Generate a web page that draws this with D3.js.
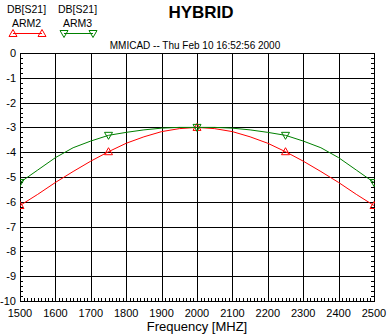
<!DOCTYPE html>
<html>
<head>
<meta charset="utf-8">
<script src="https://cdn.jsdelivr.net/npm/d3@7"></script>
<style>
  html, body { margin: 0; padding: 0; background: #fff; }
  svg { display: block; font-family: "Liberation Sans", Arial, sans-serif; }
</style>
</head>
<body>
<svg id="chart" width="391" height="335"></svg>
<script>
// Frequency sweep (MHz) and insertion loss of the two hybrid arms (dB)
const freq = [1500, 1550, 1600, 1650, 1700, 1750, 1800, 1850, 1900, 1950, 2000,
              2050, 2100, 2150, 2200, 2250, 2300, 2350, 2400, 2450, 2500];
const arm2 = [-6.15, -5.70, -5.22, -4.78, -4.36, -3.98, -3.64, -3.38, -3.17, -3.05, -3.00,
              -3.05, -3.17, -3.38, -3.64, -3.98, -4.36, -4.78, -5.22, -5.70, -6.15];
const arm3 = [-5.22, -4.72, -4.22, -3.82, -3.55, -3.32, -3.20, -3.10, -3.03, -3.00, -3.00,
              -3.00, -3.03, -3.10, -3.20, -3.32, -3.55, -3.82, -4.22, -4.72, -5.22];
const markerFreqs = [1500, 1750, 2000, 2250, 2500];
const xTicks = [1500, 1600, 1700, 1800, 1900, 2000, 2100, 2200, 2300, 2400, 2500];
const yTicks = [0, -1, -2, -3, -4, -5, -6, -7, -8, -9, -10];

const series = [
  { name: "ARM2", label: "DB[S21]", values: arm2, color: "#ff0000", marker: "up" },
  { name: "ARM3", label: "DB[S21]", values: arm3, color: "#008000", marker: "down" }
];

const svg = d3.select("#chart");
const plotL = 20, plotR = 374, plotT = 53, plotB = 301;

const x = d3.scaleLinear().domain([1500, 2500]).range([plotL, plotR]);
const y = d3.scaleLinear().domain([0, -10]).range([plotT, plotB]);

svg.append("defs").append("clipPath").attr("id", "plot-clip")
  .append("rect").attr("x", plotL).attr("y", plotT)
  .attr("width", plotR - plotL + 1).attr("height", plotB - plotT + 1);

// Title and run stamp
svg.append("text").attr("x", 201).attr("y", 18).attr("text-anchor", "middle")
  .attr("font-size", 17).attr("font-weight", "bold").text("HYBRID");
svg.append("text").attr("x", 195).attr("y", 49).attr("text-anchor", "middle")
  .attr("font-size", 10).text("MMICAD -- Thu Feb 10 16:52:56 2000");

const g = svg.append("g").attr("shape-rendering", "crispEdges");

// Major grid
g.selectAll(".vgrid").data(xTicks).join("line")
  .attr("x1", d => Math.round(x(d)) + 0.5).attr("x2", d => Math.round(x(d)) + 0.5)
  .attr("y1", plotT).attr("y2", plotB).attr("stroke", "#000");
g.selectAll(".hgrid").data(yTicks).join("line")
  .attr("y1", d => Math.round(y(d)) + 0.5).attr("y2", d => Math.round(y(d)) + 0.5)
  .attr("x1", plotL).attr("x2", plotR).attr("stroke", "#000");

// Minor ticks on left, right and bottom edges (inside)
const yMinor = d3.range(0, 51).map(i => -i * 0.2);
const xMinor = d3.range(0, 101).map(i => 1500 + i * 10);
g.selectAll(".ml").data(yMinor).join("line")
  .attr("x1", plotL).attr("x2", plotL + 3)
  .attr("y1", d => Math.round(y(d)) + 0.5).attr("y2", d => Math.round(y(d)) + 0.5)
  .attr("stroke", "#000");
g.selectAll(".mr").data(yMinor).join("line")
  .attr("x1", plotR - 3).attr("x2", plotR)
  .attr("y1", d => Math.round(y(d)) + 0.5).attr("y2", d => Math.round(y(d)) + 0.5)
  .attr("stroke", "#000");
g.selectAll(".mb").data(xMinor).join("line")
  .attr("x1", d => Math.round(x(d)) + 0.5).attr("x2", d => Math.round(x(d)) + 0.5)
  .attr("y1", plotB - 3).attr("y2", plotB)
  .attr("stroke", "#000");

// Tick labels
svg.selectAll(".ylab").data(yTicks).join("text")
  .attr("x", 16).attr("y", d => y(d) + 4).attr("text-anchor", "end")
  .attr("font-size", 11).text(d => d);
svg.selectAll(".xlab").data(xTicks).join("text")
  .attr("x", d => x(d)).attr("y", 317).attr("text-anchor", "middle")
  .attr("font-size", 11).text(d => d);
svg.append("text").attr("x", 197).attr("y", 331).attr("text-anchor", "middle")
  .attr("font-size", 13).text("Frequency [MHZ]");

// Triangle marker path
function tri(cx, cy, dir) {
  const s = dir === "up" ? 1 : -1;
  return `M${cx},${cy - 4 * s} L${cx + 4},${cy + 3 * s} L${cx - 4},${cy + 3 * s} Z`;
}

const line = d3.line().x(d => x(d[0])).y(d => y(d[1]));
const traces = svg.append("g").attr("clip-path", "url(#plot-clip)");

series.forEach(s => {
  const pts = freq.map((f, i) => [f, s.values[i]]);
  traces.append("path").datum(pts).attr("d", line)
    .attr("fill", "none").attr("stroke", s.color).attr("stroke-width", 1);
  traces.selectAll(null).data(markerFreqs).join("path")
    .attr("d", f => tri(x(f), y(s.values[freq.indexOf(f)]), s.marker))
    .attr("fill", "none").attr("stroke", s.color).attr("stroke-width", 1);
});

// Legend
const legendX = [7, 58];
series.forEach((s, i) => {
  const lx = legendX[i];
  svg.append("text").attr("x", lx).attr("y", 13).attr("font-size", 10.5).text(s.label);
  svg.append("text").attr("x", lx + 19.5).attr("y", 27).attr("text-anchor", "middle")
    .attr("font-size", 10.5).text(s.name);
  const x1 = lx + 6, x2 = lx + 35, ly = 33.5;
  svg.append("line").attr("x1", x1).attr("x2", x2).attr("y1", ly).attr("y2", ly)
    .attr("stroke", s.color);
  svg.selectAll(null).data([x1, x2]).join("path")
    .attr("d", d => tri(d, ly, s.marker))
    .attr("fill", "none").attr("stroke", s.color);
});

// Plot frame
g.append("rect").attr("x", plotL + 0.5).attr("y", plotT + 0.5)
  .attr("width", plotR - plotL).attr("height", plotB - plotT)
  .attr("fill", "none").attr("stroke", "#000");
</script>
</body>
</html>
